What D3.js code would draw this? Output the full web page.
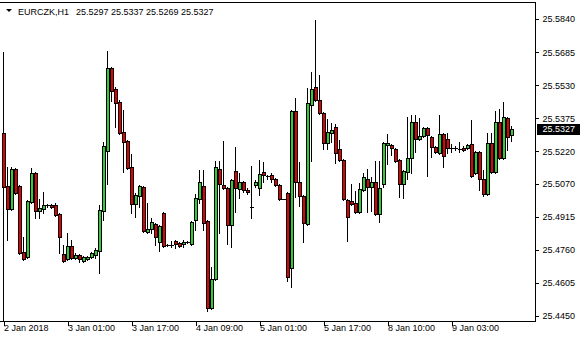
<!DOCTYPE html>
<html><head><meta charset="utf-8">
<script src="https://cdn.jsdelivr.net/npm/d3@7"></script>
<style>html,body{margin:0;padding:0;background:#fff}svg{display:block}</style>
</head><body>
<svg id="chart" width="580" height="340"></svg>
<script>
const symbol = "EURCZK,H1";
const headerValues = ["25.5297", "25.5337", "25.5269", "25.5327"];
const lastPrice = 25.5327;
const priceTicks = [25.5840, 25.5685, 25.5530, 25.5375, 25.5220, 25.5070, 25.4915, 25.4760, 25.4605, 25.4450];
const timeLabels = ["2 Jan 2018", "3 Jan 01:00", "3 Jan 17:00", "4 Jan 09:00", "5 Jan 01:00", "5 Jan 17:00", "8 Jan 10:00", "9 Jan 03:00"];
const timeLabelBars = [0, 16, 32, 48, 64, 80, 96, 112];

const opens = [25.5306,25.5058,25.4951,25.5138,25.5058,25.4750,25.4726,25.4983,25.5119,25.4941,
25.4951,25.4970,25.4970,25.4970,25.4927,25.4740,25.4717,25.4778,25.4722,25.4736,
25.4707,25.4717,25.4726,25.4736,25.4754,25.4941,25.5222,25.5611,25.5512,25.5452,
25.5311,25.5269,25.5147,25.4974,25.5012,25.5054,25.4843,25.4857,25.4881,25.4796,
25.4932,25.4782,25.4782,25.4801,25.4792,25.4787,25.4796,25.4787,25.4899,25.4998,
25.5058,25.4895,25.4488,25.4623,25.5138,25.5063,25.5049,25.4876,25.5129,25.5044,
25.5077,25.5040,25.4960,25.5063,25.5049,25.5124,25.5105,25.5110,25.5091,25.5063,
25.4998,25.5026,25.4675,25.5409,25.5077,25.5012,25.4881,25.5438,25.5522,25.5461,
25.5400,25.5260,25.5306,25.5335,25.5232,25.5180,25.4993,25.4988,25.4979,25.4937,
25.5040,25.5091,25.5054,25.5077,25.4927,25.5068,25.5250,25.5250,25.5232,25.5180,
25.5068,25.5124,25.5190,25.5358,25.5278,25.5292,25.5330,25.5288,25.5241,25.5213,
25.5302,25.5278,25.5236,25.5236,25.5232,25.5236,25.5236,25.5255,25.5119,25.5218,
25.5091,25.5021,25.5260,25.5124,25.5358,25.5190,25.5377,25.5297];

const highs = [25.5686,25.5147,25.5147,25.5143,25.5063,25.4820,25.4993,25.5143,25.5124,25.4998,
25.5030,25.4974,25.4974,25.4979,25.4932,25.4782,25.4838,25.4806,25.4745,25.4740,
25.4731,25.4731,25.4750,25.4768,25.4970,25.5264,25.5690,25.5615,25.5522,25.5461,
25.5414,25.5274,25.5208,25.5026,25.5063,25.5058,25.4979,25.4909,25.4885,25.4876,
25.4937,25.4787,25.4801,25.4806,25.4796,25.4806,25.4801,25.4895,25.5021,25.5133,
25.5133,25.4899,25.4679,25.5175,25.5175,25.5269,25.5054,25.5091,25.5241,25.5119,
25.5082,25.5049,25.5152,25.5087,25.5180,25.5171,25.5110,25.5119,25.5096,25.5068,
25.4999,25.5030,25.5414,25.5470,25.5171,25.5016,25.5517,25.5592,25.5835,25.5578,
25.5405,25.5372,25.5353,25.5349,25.5274,25.5185,25.4998,25.5068,25.5035,25.5072,
25.5119,25.5138,25.5101,25.5175,25.5175,25.5264,25.5302,25.5255,25.5236,25.5185,
25.5133,25.5381,25.5391,25.5391,25.5377,25.5335,25.5335,25.5292,25.5246,25.5391,
25.5306,25.5306,25.5255,25.5246,25.5264,25.5246,25.5255,25.5367,25.5222,25.5222,
25.5133,25.5306,25.5306,25.5409,25.5419,25.5452,25.5381,25.5337];

const lows = [25.4420,25.4806,25.4946,25.5021,25.4740,25.4712,25.4722,25.4979,25.4909,25.4909,
25.4932,25.4960,25.4955,25.4918,25.4745,25.4703,25.4712,25.4717,25.4717,25.4703,
25.4703,25.4712,25.4722,25.4722,25.4651,25.4899,25.5068,25.5456,25.5335,25.5302,
25.5124,25.5138,25.4932,25.4913,25.4960,25.4843,25.4838,25.4838,25.4782,25.4754,
25.4773,25.4778,25.4773,25.4768,25.4773,25.4773,25.4792,25.4782,25.4853,25.4979,
25.4853,25.4473,25.4483,25.4619,25.4838,25.5044,25.4787,25.4773,25.4937,25.5002,
25.5030,25.5021,25.4909,25.5054,25.5016,25.5077,25.5091,25.5077,25.5058,25.4993,
25.4996,25.4614,25.4586,25.5007,25.4965,25.4796,25.4876,25.5175,25.5456,25.5395,
25.5232,25.5232,25.5264,25.5166,25.5175,25.4993,25.4801,25.4970,25.4932,25.4932,
25.5035,25.4937,25.4941,25.4923,25.4890,25.5054,25.5161,25.5204,25.5171,25.5007,
25.5002,25.5091,25.5119,25.5218,25.5274,25.5288,25.5105,25.5194,25.5213,25.5208,
25.5147,25.5213,25.5218,25.5227,25.5218,25.5222,25.5232,25.5101,25.5115,25.5040,
25.5012,25.5016,25.5119,25.5119,25.5185,25.5185,25.5227,25.5269];

const closes = [25.5054,25.4951,25.5138,25.5026,25.4745,25.4717,25.4988,25.5119,25.4941,25.4955,
25.4970,25.4969,25.4960,25.4923,25.4820,25.4707,25.4778,25.4722,25.4736,25.4717,
25.4726,25.4726,25.4745,25.4759,25.4946,25.5246,25.5611,25.5503,25.5447,25.5306,
25.5264,25.5143,25.4974,25.5016,25.5058,25.4848,25.4857,25.4890,25.4820,25.4871,
25.4778,25.4783,25.4781,25.4787,25.4778,25.4796,25.4797,25.4890,25.5002,25.5077,
25.4885,25.4488,25.4623,25.5147,25.5068,25.5049,25.4876,25.5087,25.5049,25.5077,
25.5040,25.5030,25.4959,25.5077,25.5115,25.5110,25.5104,25.5091,25.5063,25.4998,
25.4997,25.4633,25.5409,25.5077,25.5012,25.4885,25.5447,25.5512,25.5461,25.5400,
25.5260,25.5311,25.5320,25.5213,25.5180,25.4998,25.4913,25.4974,25.4937,25.5044,
25.5101,25.5054,25.5077,25.4927,25.5049,25.5260,25.5260,25.5236,25.5175,25.5068,
25.5129,25.5190,25.5358,25.5278,25.5292,25.5330,25.5297,25.5241,25.5218,25.5302,
25.5199,25.5236,25.5235,25.5235,25.5231,25.5227,25.5250,25.5105,25.5218,25.5091,
25.5021,25.5260,25.5124,25.5358,25.5190,25.5381,25.5288,25.5327];

const FONT = "'Liberation Sans', Arial, sans-serif";
const BULL = "#32cd32", BEAR = "#e00000";
const plotRight = 535.5, plotBottom = 321.5, plotTop = 2.5;

const svg = d3.select("#chart");
const x = d3.scaleLinear().domain([0, opens.length - 1]).range([3, 511]);
const y = d3.scaleLinear().domain([25.4450, 25.5840]).range([316, 19]);

svg.append("defs").append("clipPath").attr("id", "plotclip")
  .append("rect").attr("x", 0).attr("y", 3).attr("width", 535).attr("height", 318);

const data = opens.map((o, i) => ({ i, o, h: highs[i], l: lows[i], c: closes[i] }));
const g = svg.append("g").attr("clip-path", "url(#plotclip)").attr("shape-rendering", "crispEdges");

// wicks
g.selectAll("rect.wick").data(data).join("rect").attr("class", "wick")
  .attr("x", d => Math.round(x(d.i)))
  .attr("y", d => Math.round(y(d.h)))
  .attr("width", 1)
  .attr("height", d => Math.max(1, Math.round(y(d.l)) - Math.round(y(d.h)) + 1))
  .attr("fill", "#000");

// bodies (outline)
const top_ = d => Math.round(y(Math.max(d.o, d.c)));
const bot_ = d => Math.round(y(Math.min(d.o, d.c)));
g.selectAll("rect.body").data(data).join("rect").attr("class", "body")
  .attr("x", d => Math.round(x(d.i)) - 1)
  .attr("y", top_)
  .attr("width", 4)
  .attr("height", d => bot_(d) - top_(d) + 1)
  .attr("fill", "#000");
// bodies (fill)
g.selectAll("rect.fillb").data(data.filter(d => bot_(d) - top_(d) >= 2)).join("rect").attr("class", "fillb")
  .attr("x", d => Math.round(x(d.i)))
  .attr("y", d => top_(d) + 1)
  .attr("width", 2)
  .attr("height", d => bot_(d) - top_(d) - 1)
  .attr("fill", d => d.c >= d.o ? BULL : BEAR);

// frame
const frame = svg.append("g").attr("stroke", "#000").attr("stroke-width", 1).attr("shape-rendering", "crispEdges");
frame.append("line").attr("x1", 0).attr("x2", plotRight).attr("y1", plotBottom).attr("y2", plotBottom);
frame.append("line").attr("x1", plotRight).attr("x2", plotRight).attr("y1", plotTop).attr("y2", plotBottom);
frame.append("line").attr("x1", 0).attr("x2", plotRight).attr("y1", plotTop).attr("y2", plotTop);

// price axis
const yAxis = d3.axisRight(y).tickValues(priceTicks).tickFormat(d3.format(".4f")).tickSize(3).tickPadding(4).tickSizeOuter(0);
const ya = svg.append("g").attr("transform", `translate(${plotRight},0)`).call(yAxis);
ya.select(".domain").remove();
ya.selectAll("line").attr("shape-rendering", "crispEdges");
ya.selectAll("text").attr("font-family", FONT).attr("font-size", 9).attr("fill", "#000");

// time axis
const xAxis = d3.axisBottom(x).tickValues(timeLabelBars).tickFormat((d, k) => timeLabels[k]).tickSize(4).tickSizeOuter(0);
const xa = svg.append("g").attr("transform", `translate(0.5,${plotBottom})`).call(xAxis);
xa.select(".domain").remove();
xa.selectAll("line").attr("shape-rendering", "crispEdges");
xa.selectAll("text").attr("font-family", FONT).attr("font-size", 9).attr("fill", "#000")
  .attr("text-anchor", "start").attr("x", 0).attr("y", 3).attr("dy", "0.71em");

// current price label
const yp = y(lastPrice);
svg.append("rect").attr("x", 537).attr("y", Math.round(yp) - 5).attr("width", 43).attr("height", 11).attr("fill", "#000");
svg.append("text").attr("x", 542.5).attr("y", yp).attr("dy", "0.34em")
  .attr("font-family", FONT).attr("font-size", 9).attr("fill", "#fff").text(d3.format(".4f")(lastPrice));

// title
svg.append("path").attr("d", "M6,9L12,9L9,12Z").attr("fill", "#000");
const title = svg.append("g").attr("font-family", FONT).attr("font-size", 9).attr("fill", "#000");
title.append("text").attr("x", 18).attr("y", 15).text(symbol);
const headerX = [76, 111, 146, 181];
headerValues.forEach((v, k) => title.append("text").attr("x", headerX[k]).attr("y", 15).text(v));
</script>
</body></html>
